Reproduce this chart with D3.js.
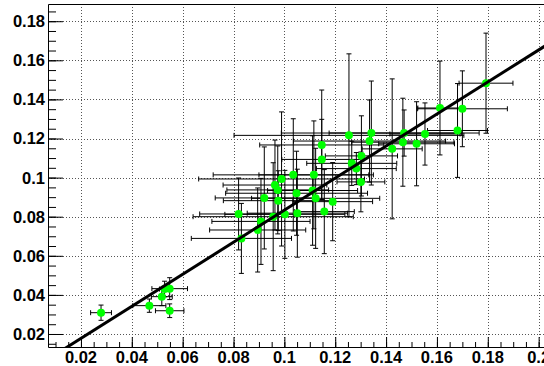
<!DOCTYPE html>
<html>
<head>
<meta charset="utf-8">
<script src="https://cdn.jsdelivr.net/npm/d3@7"></script>
<style>
  html, body { margin: 0; padding: 0; background: #fff; }
  svg { display: block; }
</style>
</head>
<body>
<svg id="chart" width="544" height="366"></svg>
<script>
// Measured points with symmetric errors
const xVals = [0.0279, 0.0469, 0.0518, 0.0529, 0.0549, 0.0549,
  0.0820, 0.0831, 0.0895, 0.0908, 0.0921, 0.0956, 0.0963, 0.0974, 0.0976,
  0.0989, 0.1002, 0.1035, 0.1048, 0.1051, 0.1111, 0.1116, 0.1123, 0.1147,
  0.1147, 0.1157, 0.1190, 0.1254, 0.1265, 0.1283, 0.1301, 0.1303, 0.1335,
  0.1342, 0.1424, 0.1466, 0.1471, 0.1520, 0.1553, 0.1612, 0.1681, 0.1700,
  0.1793];
const yVals = [0.0309, 0.0345, 0.0391, 0.0430, 0.0432, 0.0319,
  0.0814, 0.0689, 0.0732, 0.0776, 0.0896, 0.0800, 0.0962, 0.0937, 0.0882,
  0.0993, 0.0812, 0.1014, 0.0920, 0.0818, 0.0934, 0.1014, 0.0894, 0.1167,
  0.1093, 0.0826, 0.0877, 0.1216, 0.1073, 0.1046, 0.0978, 0.1111, 0.1187,
  0.1228, 0.1147, 0.1181, 0.1228, 0.1173, 0.1223, 0.1356, 0.1241, 0.1352,
  0.1483];
const xErr = [0.0041, 0.0065, 0.0041, 0.0020, 0.0070, 0.0056,
  0.0153, 0.0197, 0.0189, 0.0193, 0.0193, 0.0315, 0.0204, 0.0200, 0.0216,
  0.0326, 0.0236, 0.0315, 0.0279, 0.0197, 0.0177, 0.0216, 0.0252, 0.0244,
  0.0157, 0.0118, 0.0157, 0.0452, 0.0177, 0.0157, 0.0094, 0.0142, 0.0299,
  0.0354, 0.0118, 0.0201, 0.0295, 0.0149, 0.0138, 0.0087, 0.0118, 0.0177,
  0.0106];
const yErr = [0.0039, 0.0034, 0.0046, 0.0040, 0.0056, 0.0035,
  0.0184, 0.0179, 0.0215, 0.0220, 0.0261, 0.0276, 0.0230, 0.0225, 0.0153,
  0.0343, 0.0225, 0.0287, 0.0215, 0.0225, 0.0280, 0.0276, 0.0256, 0.0281,
  0.0205, 0.0215, 0.0200, 0.0417, 0.0113, 0.0082, 0.0153, 0.0205, 0.0210,
  0.0266, 0.0358, 0.0225, 0.0118, 0.0215, 0.0159, 0.0240, 0.0240, 0.0194,
  0.0256];

// Straight-line fit y = intercept + slope * x
const fitIntercept = 0.00137;
const fitSlope = 0.8195;

// Axis ticks and their labels
const xTickValues = [0.02, 0.04, 0.06, 0.08, 0.10, 0.12, 0.14, 0.16, 0.18, 0.20];
const xTickLabels = ["0.02", "0.04", "0.06", "0.08", "0.1", "0.12", "0.14", "0.16", "0.18", "0.2"];
const yTickValues = [0.02, 0.04, 0.06, 0.08, 0.10, 0.12, 0.14, 0.16, 0.18];
const yTickLabels = ["0.02", "0.04", "0.06", "0.08", "0.1", "0.12", "0.14", "0.16", "0.18"];
const minorStep = 0.005;

const svg = d3.select("#chart");
const frame = { left: 48, right: 560, top: 4, bottom: 347 };

const x = d3.scaleLinear().domain([0.00704, 0.2084]).range([frame.left, frame.right]);
const y = d3.scaleLinear().domain([0.01335, 0.1888]).range([frame.bottom, frame.top]);

svg.append("rect").attr("width", 544).attr("height", 366).attr("fill", "#fff");

svg.append("defs").append("clipPath").attr("id", "frameClip")
  .append("rect")
  .attr("x", frame.left).attr("y", frame.top)
  .attr("width", frame.right - frame.left).attr("height", frame.bottom - frame.top);

// Dotted grid at major ticks
const grid = svg.append("g").attr("stroke", "#555").attr("stroke-width", 1)
  .attr("stroke-dasharray", "1,2").attr("fill", "none");
xTickValues.forEach(v => {
  const px = Math.round(x(v)) + 0.5;
  grid.append("line").attr("x1", px).attr("x2", px)
    .attr("y1", frame.top).attr("y2", frame.bottom);
});
yTickValues.forEach(v => {
  const py = Math.round(y(v)) + 0.5;
  grid.append("line").attr("y1", py).attr("y2", py)
    .attr("x1", frame.left).attr("x2", frame.right);
});

// Axes: ticks drawn inward from the frame
const yMinor = d3.range(0.015, 0.1888, minorStep);
const xMinor = d3.range(0.010, 0.2084, minorStep);

const yAxisMajor = d3.axisRight(y).tickValues(yTickValues).tickSize(15).tickFormat("");
const yAxisMinor = d3.axisRight(y).tickValues(yMinor).tickSize(8).tickFormat("");
const xAxisMajor = d3.axisTop(x).tickValues(xTickValues).tickSize(10).tickFormat("");
const xAxisMinor = d3.axisTop(x).tickValues(xMinor).tickSize(5).tickFormat("");

function styleAxis(g) {
  g.select(".domain").remove();
  g.selectAll(".tick line").attr("stroke", "#000").attr("stroke-width", 1);
}
svg.append("g").attr("transform", `translate(${frame.left},0)`).call(yAxisMinor).call(styleAxis);
svg.append("g").attr("transform", `translate(${frame.left},0)`).call(yAxisMajor).call(styleAxis);
svg.append("g").attr("transform", `translate(0,${frame.bottom})`).call(xAxisMinor).call(styleAxis);
svg.append("g").attr("transform", `translate(0,${frame.bottom})`).call(xAxisMajor).call(styleAxis);

// Frame border
svg.append("path")
  .attr("d", `M${frame.right},${frame.top + 0.5}H${frame.left + 0.5}V${frame.bottom + 0.5}H${frame.right}`)
  .attr("fill", "none").attr("stroke", "#000").attr("stroke-width", 1);

// Tick labels
const labelFont = "'Liberation Sans', Arial, Helvetica, sans-serif";
svg.append("g").selectAll("text").data(yTickValues).join("text")
  .attr("x", 45).attr("y", d => y(d)).attr("dy", "0.36em")
  .attr("text-anchor", "end")
  .attr("font-family", labelFont).attr("font-weight", "bold").attr("font-size", 16.5)
  .attr("fill", "#000")
  .text((d, i) => yTickLabels[i]);
svg.append("g").selectAll("text").data(xTickValues).join("text")
  .attr("x", d => x(d)).attr("y", 363)
  .attr("text-anchor", "middle")
  .attr("font-family", labelFont).attr("font-weight", "bold").attr("font-size", 16.5)
  .attr("fill", "#000")
  .text((d, i) => xTickLabels[i]);

// Error bars
const plot = svg.append("g").attr("clip-path", "url(#frameClip)");
const pts = xVals.map((v, i) => ({ x: v, y: yVals[i], ex: xErr[i], ey: yErr[i] }));
const cap = 2.5;
const bars = plot.append("g").attr("stroke", "#000").attr("stroke-width", 1).attr("fill", "none");
pts.forEach(p => {
  const cx = x(p.x), cy = y(p.y);
  const x0 = x(p.x - p.ex), x1 = x(p.x + p.ex);
  const y0 = y(p.y - p.ey), y1 = y(p.y + p.ey);
  bars.append("path").attr("d",
    `M${x0},${cy}H${x1}` +
    `M${x0},${cy - cap}V${cy + cap}M${x1},${cy - cap}V${cy + cap}` +
    `M${cx},${y0}V${y1}` +
    `M${cx - cap},${y0}H${cx + cap}M${cx - cap},${y1}H${cx + cap}`);
});

// Markers
plot.append("g").selectAll("circle").data(pts).join("circle")
  .attr("cx", d => x(d.x)).attr("cy", d => y(d.y)).attr("r", 4)
  .attr("fill", "#00ff00");

// Fit line
const xd = x.domain();
plot.append("line")
  .attr("x1", x(xd[0])).attr("y1", y(fitIntercept + fitSlope * xd[0]))
  .attr("x2", x(xd[1])).attr("y2", y(fitIntercept + fitSlope * xd[1]))
  .attr("stroke", "#000").attr("stroke-width", 3);
</script>
</body>
</html>
